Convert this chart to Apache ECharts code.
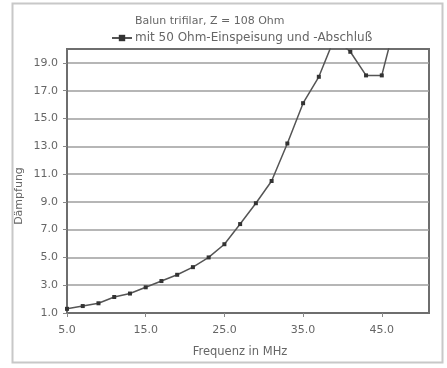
<!DOCTYPE html>
<html>
<head>
<meta charset="utf-8">
<script src="https://cdn.jsdelivr.net/npm/echarts@6/dist/echarts.min.js"></script>
<style>html,body{margin:0;padding:0;background:#fff;}#c{width:447px;height:368px;}</style>
</head>
<body>
<div id="c"></div>
<script>
var titleText = 'Balun trifilar, Z = 108 Ohm';
var seriesName = 'mit 50 Ohm-Einspeisung und -Abschluß';
var xName = 'Frequenz in MHz';
var yName = 'Dämpfung';
var freqs = [5, 7, 9, 11, 13, 15, 17, 19, 21, 23, 25, 27, 29, 31, 33, 35, 37, 39, 41, 43, 45, 47];
var values = [1.3, 1.5, 1.7, 2.15, 2.4, 2.85, 3.3, 3.75, 4.3, 5.0, 5.95, 7.4, 8.9, 10.5, 13.2, 16.1, 18.0, 20.8, 19.8, 18.1, 18.1, 22.5];
var xTicks = [5, 15, 25, 35, 45];
var yTicks = [1, 3, 5, 7, 9, 11, 13, 15, 17, 19];

var chart = echarts.init(document.getElementById('c'), null, {renderer: 'canvas'});
var textColor = '#666';
var font = '"DejaVu Sans", Verdana, sans-serif';
chart.setOption({
  animation: false,
  backgroundColor: '#fff',
  title: {
    text: titleText, left: 130, top: 11,
    textStyle: {fontSize: 11, fontWeight: 'normal', color: textColor, fontFamily: font}
  },
  legend: {
    data: [seriesName], left: 106, top: 27, itemWidth: 20, itemHeight: 8, itemGap: 4,
    textStyle: {fontSize: 12, color: textColor, fontFamily: font, padding: [0, 0, 0, -2]}
  },
  graphic: [
    {type: 'rect', shape: {x: 12.5, y: 3.5, width: 430, height: 359}, style: {fill: 'none', stroke: '#c8c8c8', lineWidth: 2}, z: -1},
    {type: 'text', x: 19, y: 196, rotation: Math.PI / 2,
     style: {text: yName, fill: textColor, font: '11px ' + font, align: 'center', verticalAlign: 'middle'}}
  ],
  grid: {left: 67, right: 18, top: 49, bottom: 55, show: true, borderColor: '#6e6e6e', borderWidth: 2, backgroundColor: 'transparent'},
  xAxis: {
    type: 'value', min: 5, max: 51,
    name: xName, nameLocation: 'middle', nameGap: 33,
    nameTextStyle: {fontSize: 11.5, color: textColor, fontFamily: font, padding: [0, 16, 0, 0]},
    axisLine: {show: true, lineStyle: {color: '#6e6e6e', width: 2}},
    axisTick: {show: true, customValues: xTicks, length: 4, lineStyle: {color: '#888'}},
    axisLabel: {customValues: xTicks, color: textColor, fontSize: 11, fontFamily: font, margin: 12,
      formatter: function (v) { return v.toFixed(1); }},
    splitLine: {show: false}
  },
  yAxis: {
    type: 'value', min: 1, max: 20,
    axisLine: {show: true, lineStyle: {color: '#6e6e6e', width: 2}},
    axisTick: {show: true, customValues: yTicks, length: 4, lineStyle: {color: '#888'}},
    axisLabel: {customValues: yTicks, color: textColor, fontSize: 11, fontFamily: font, margin: 9,
      formatter: function (v) { return v.toFixed(1); }},
    splitLine: {show: true, lineStyle: {color: '#9e9e9e', width: 1.5}}
  },
  series: [{
    name: seriesName, type: 'line',
    data: freqs.map(function (f, i) { return [f, values[i]]; }),
    symbol: 'rect', symbolSize: 4, showSymbol: true,
    lineStyle: {color: '#555', width: 1.5},
    itemStyle: {color: '#333'},
    clip: true
  }]
});
</script>
</body>
</html>
